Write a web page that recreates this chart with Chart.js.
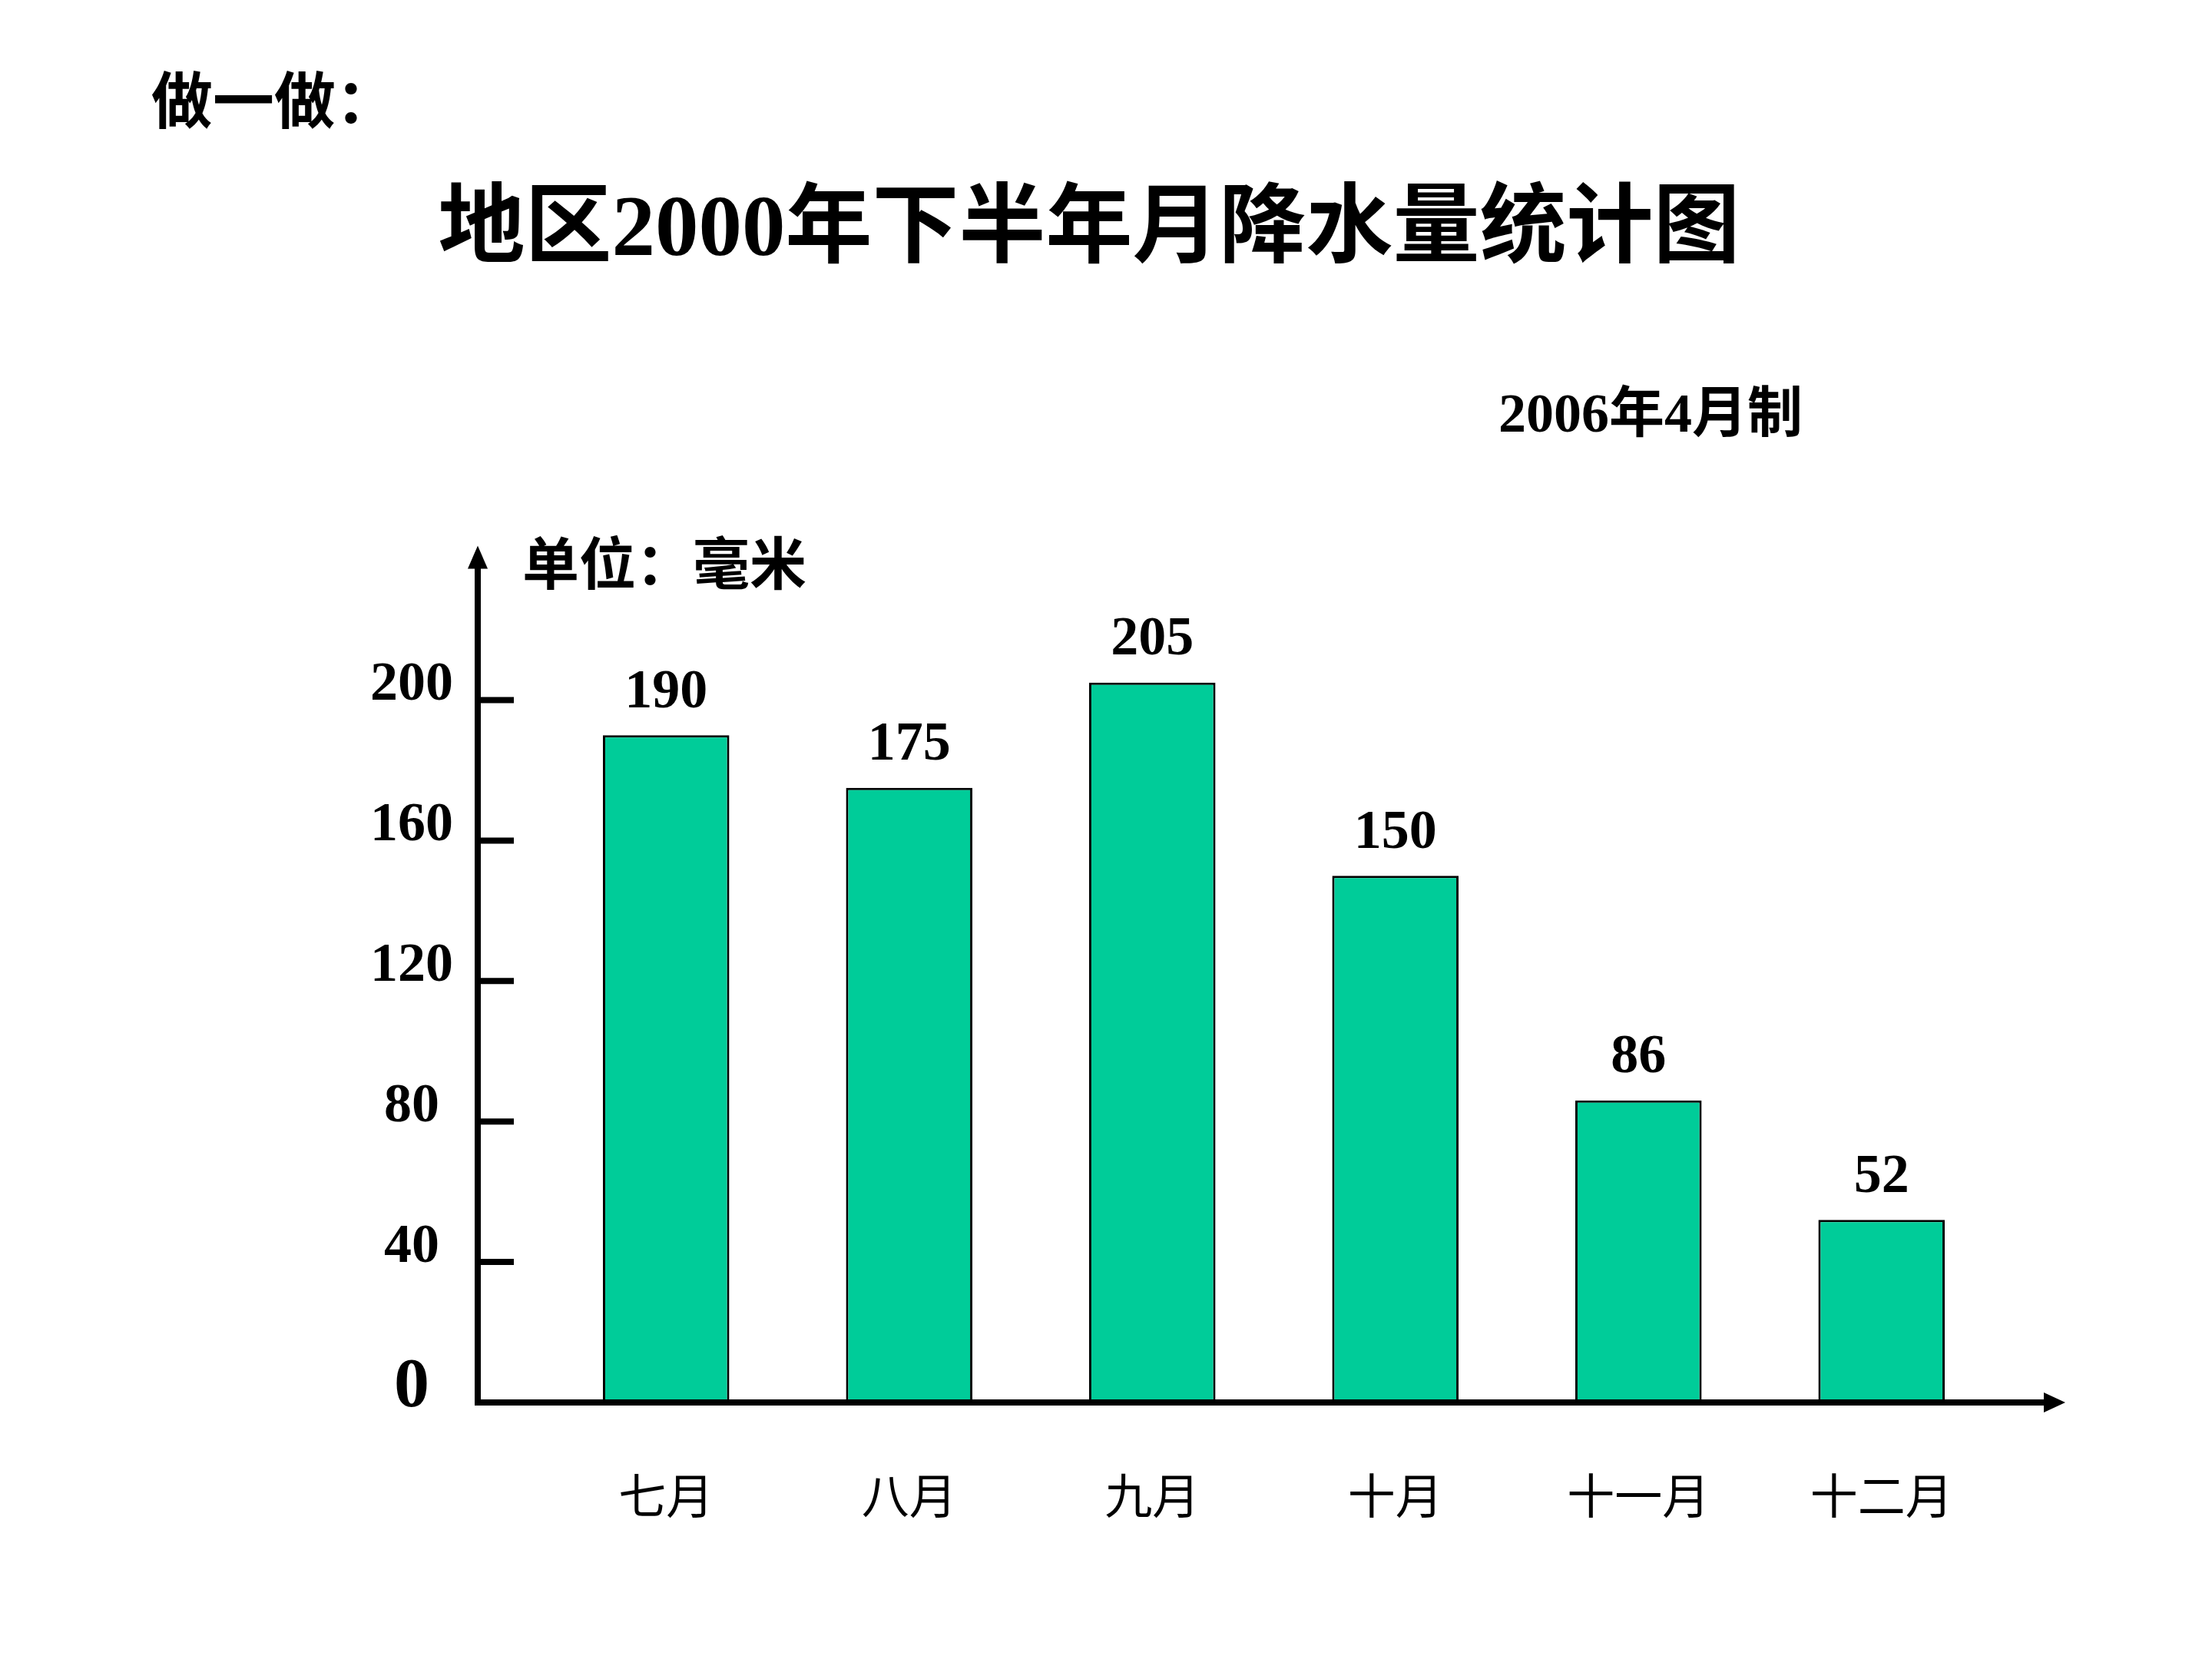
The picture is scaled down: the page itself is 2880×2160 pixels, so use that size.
<!DOCTYPE html>
<html>
<head>
<meta charset="utf-8">
<title>地区2000年下半年月降水量统计图</title>
<script src="https://cdn.jsdelivr.net/npm/chart.js@4.4.1/dist/chart.umd.min.js"></script>
<style>
html, body { margin: 0; padding: 0; background: #fff; }
#rainChart { display: block; }
</style>
</head>
<body>
<canvas id="rainChart" width="2880" height="2160"></canvas>
<script>
const months = ['七月', '八月', '九月', '十月', '十一月', '十二月']
const rainfall = [190, 175, 205, 150, 86, 52]
const yTicks = [0, 40, 80, 120, 160, 200]
const pageTitle = '地区2000年下半年月降水量统计图'
const noteText = '做一做：'
const madeText = '2006年4月制'
const unitText = '单位：毫米'

const serif = '"Liberation Serif", "Noto Sans CJK SC", serif'
const cjkSans = '"Noto Sans CJK SC", sans-serif'

// axes with arrows, tick marks, value labels and the loose texts
const extrasPlugin = {
    id: 'extras',
    afterDraw(chart) {
        const ctx = chart.ctx
        const area = chart.chartArea
        const ys = chart.scales.y
        const ox = area.left - 87
        const oy = ys.getPixelForValue(0)
        const topY = area.top - 18
        const rightX = area.right + 81

        ctx.save()
        ctx.strokeStyle = '#000'
        ctx.fillStyle = '#000'
        ctx.lineWidth = 8
        ctx.lineCap = 'butt'

        // y axis
        ctx.beginPath()
        ctx.moveTo(ox, oy + 4)
        ctx.lineTo(ox, topY + 20)
        ctx.stroke()
        ctx.beginPath()
        ctx.moveTo(ox, topY)
        ctx.lineTo(ox - 13, topY + 30)
        ctx.lineTo(ox + 13, topY + 30)
        ctx.closePath()
        ctx.fill()

        // x axis
        ctx.beginPath()
        ctx.moveTo(ox - 4, oy)
        ctx.lineTo(rightX - 20, oy)
        ctx.stroke()
        ctx.beginPath()
        ctx.moveTo(rightX, oy)
        ctx.lineTo(rightX - 28, oy - 13)
        ctx.lineTo(rightX - 28, oy + 13)
        ctx.closePath()
        ctx.fill()

        // tick marks on the right side of the y axis
        yTicks.forEach(v => {
            if (v === 0) return
            const py = ys.getPixelForValue(v)
            ctx.beginPath()
            ctx.moveTo(ox, py)
            ctx.lineTo(ox + 47, py)
            ctx.stroke()
        })

        // value labels above bars
        ctx.font = 'bold 72px ' + serif
        ctx.textAlign = 'center'
        ctx.textBaseline = 'middle'
        chart.getDatasetMeta(0).data.forEach((bar, i) => {
            ctx.fillText(String(rainfall[i]), bar.x, bar.y - 55)
        })

        // loose texts
        ctx.textAlign = 'left'
        ctx.font = 'bold 80px ' + serif
        ctx.fillText(noteText, 197, 139)
        ctx.font = 'bold 72px ' + serif
        ctx.fillText(madeText, 1951, 543)
        ctx.font = 'bold 74px ' + serif
        ctx.fillText(unitText, 680, 742)
        ctx.restore()
    }
}

var ctxRain = document.getElementById('rainChart').getContext('2d')
var chartRain = new Chart(ctxRain, {
    type: 'bar',
    data: {
        labels: months,
        datasets: [{
            data: rainfall,
            backgroundColor: '#00CC99',
            borderColor: '#000',
            borderWidth: 3,
            barPercentage: 0.52,
            categoryPercentage: 1
        }]
    },
    options: {
        responsive: false,
        animation: false,
        devicePixelRatio: 1,
        layout: { padding: { left: 228, right: 272, top: 0, bottom: 0 } },
        plugins: {
            legend: { display: false },
            tooltip: { enabled: false },
            title: {
                display: true,
                text: pageTitle,
                color: '#000',
                font: { family: serif, size: 113, weight: 'bold' },
                padding: { top: 235, bottom: 358 }
            }
        },
        scales: {
            x: {
                grid: { display: false, drawTicks: false },
                border: { display: false },
                ticks: {
                    color: '#000',
                    padding: 84,
                    font: { family: cjkSans, size: 62 }
                },
                afterFit(scale) { scale.height = 334 }
            },
            y: {
                min: 0,
                max: 240,
                grid: { display: false, drawTicks: false },
                border: { display: false },
                ticks: {
                    stepSize: 40,
                    crossAlign: 'center',
                    padding: 119,
                    labelOffset: -19,
                    color: '#000',
                    callback: v => (yTicks.includes(v) ? String(v) : ''),
                    font: c => ({
                        family: serif,
                        weight: 'bold',
                        size: c.tick && c.tick.value === 0 ? 92 : 72
                    })
                },
                afterFit(scale) { scale.width = 481 }
            }
        }
    },
    plugins: [extrasPlugin]
})
</script>
</body>
</html>
